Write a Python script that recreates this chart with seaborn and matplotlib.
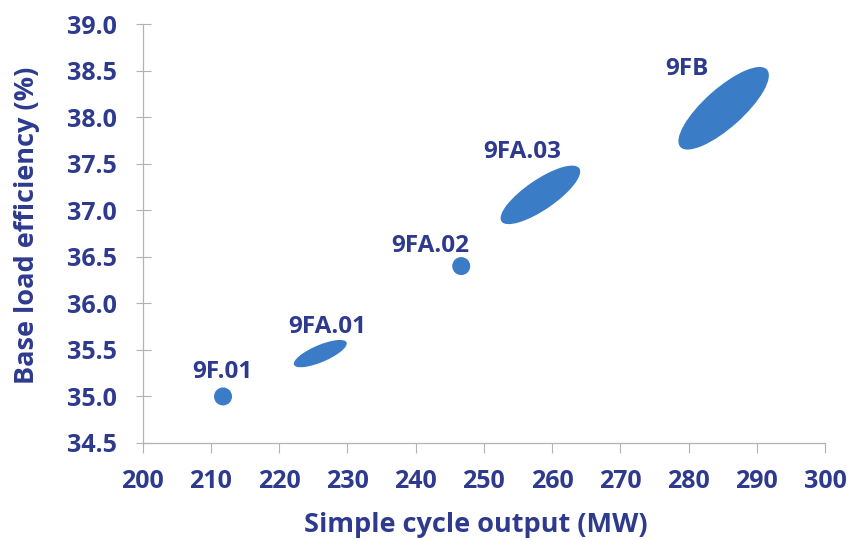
import numpy as np
import pandas as pd
import matplotlib
matplotlib.use('Agg')
import matplotlib.pyplot as plt
import seaborn as sns
from matplotlib.patches import Ellipse
from matplotlib.transforms import ScaledTranslation

# Gas turbine models: output / efficiency ranges (lo == hi means a single rating)
models = ['9F.01', '9FA.01', '9FA.02', '9FA.03', '9FB']
output_lo = [211.8, 222.2, 246.7, 252.6, 278.8]
output_hi = [211.8, 229.9, 246.7, 264.0, 291.5]
eff_lo = [35.0, 35.34, 36.4, 36.88, 37.68]
eff_hi = [35.0, 35.58, 36.4, 37.45, 38.51]

# label anchor (text baseline centre) for each model
label_x = [211.7, 227.0, 242.1, 255.6, 279.7]
label_y = [35.20, 35.68, 36.55, 37.56, 38.45]

xticks = [200, 210, 220, 230, 240, 250, 260, 270, 280, 290, 300]
yticks = [34.5, 35.0, 35.5, 36.0, 36.5, 37.0, 37.5, 38.0, 38.5, 39.0]

# thickness of the range ellipses, in pixels
band_px = [17, 17, 17, 30, 39]

NAVY = '#2e3a8e'
BLUE = '#3a7cc6'
GREY = '#b3b3b3'

sns.set_style('ticks')
plt.rcParams['font.family'] = ['Open Sans', 'DejaVu Sans']
plt.rcParams['font.weight'] = 'bold'

df = pd.DataFrame({'model': models, 'output_lo': output_lo, 'output_hi': output_hi,
                   'eff_lo': eff_lo, 'eff_hi': eff_hi})

fig, ax = plt.subplots(figsize=(8.5, 5.4), dpi=100)
fig.subplots_adjust(left=142.5 / 850, right=825 / 850, bottom=1 - 443 / 540, top=1 - 24 / 540)
ax.set_xlim(200, 300)
ax.set_ylim(34.5, 39.0)

# single ratings as dots
points = df[df['output_lo'] == df['output_hi']]
sns.scatterplot(data=points, x='output_lo', y='eff_lo', s=168, color=BLUE,
                edgecolor='none', ax=ax, zorder=3, legend=False)

# ranges as ellipses spanning lo -> hi
for i, row in df.iterrows():
    if row['output_lo'] == row['output_hi']:
        continue
    p0 = ax.transData.transform((row['output_lo'], row['eff_lo']))
    p1 = ax.transData.transform((row['output_hi'], row['eff_hi']))
    d = p1 - p0
    length = np.hypot(d[0], d[1])
    ang = np.degrees(np.arctan2(d[1], d[0]))
    cx = (row['output_lo'] + row['output_hi']) / 2
    cy = (row['eff_lo'] + row['eff_hi']) / 2
    tr = fig.dpi_scale_trans + ScaledTranslation(cx, cy, ax.transData)
    e = Ellipse((0, 0), width=length / fig.dpi, height=band_px[i] / fig.dpi,
                angle=ang, transform=tr, facecolor=BLUE, edgecolor='none', zorder=3)
    ax.add_patch(e)

for name, tx, ty in zip(models, label_x, label_y):
    ax.text(tx, ty, name, ha='center', va='baseline', fontsize=17.5,
            color=NAVY, fontweight='bold')

sns.despine(ax=ax)
for s in ['left', 'bottom']:
    ax.spines[s].set_color(GREY)
    ax.spines[s].set_linewidth(0.9)

ax.set_xticks(xticks)
ax.set_yticks(yticks)
ax.set_yticklabels([f'{v:.1f}' for v in yticks])
ax.tick_params(axis='y', direction='inout', length=10.8, width=0.8, color=GREY,
               pad=13, labelsize=18, labelcolor=NAVY)
ax.tick_params(axis='x', direction='out', length=7.2, width=0.8, color=GREY,
               pad=11.4, labelsize=18, labelcolor=NAVY)

ax.set_xlabel('Simple cycle output (MW)', fontsize=19.5, color=NAVY, fontweight='bold')
ax.set_ylabel('Base load efficiency (%)', fontsize=19.5, color=NAVY, fontweight='bold')
ax.xaxis.set_label_coords(0.4886, -0.164)
ax.yaxis.set_label_coords(-0.1495, 0.52)

plt.savefig('out.png', dpi=100)
